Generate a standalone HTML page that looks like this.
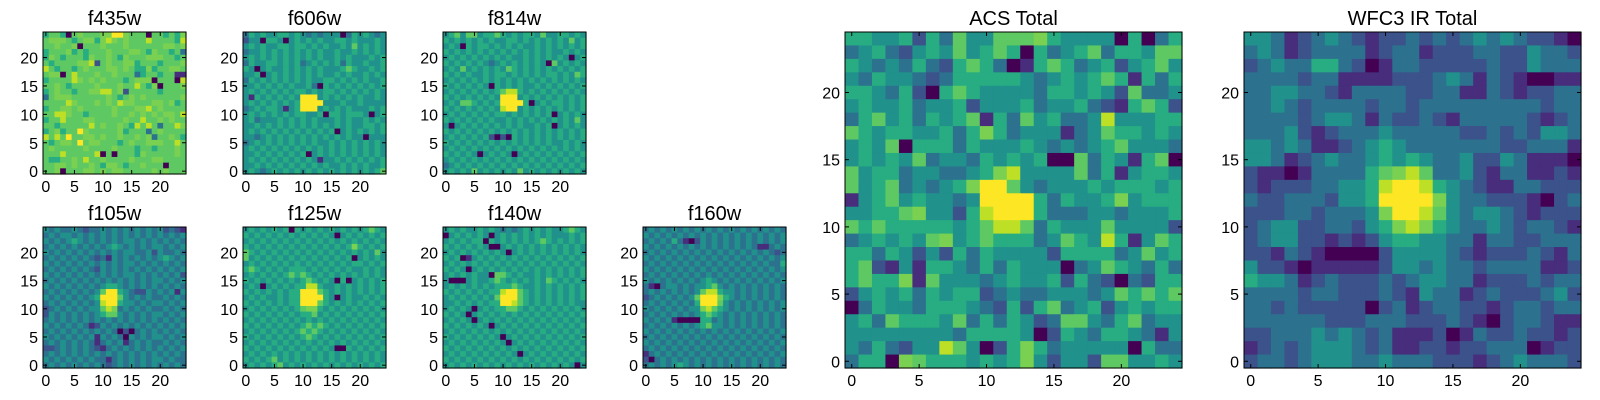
<!DOCTYPE html>
<html><head><meta charset="utf-8"><style>
html,body{margin:0;padding:0;background:#fff;}
svg{display:block;font-family:"Liberation Sans",sans-serif;}
</style></head><body>
<svg id="fig" width="1600" height="400" viewBox="0 0 1600 400"></svg>
<script>
// Colour levels 0..9 (viridis-like), rows listed top (y=24) to bottom (y=0)
const palette = ['#440154','#472d7b','#3b528b','#2c728e','#21918c','#27ad81','#5ec962','#7ad151','#bddf26','#fde725'];
const tickValues = [0,5,10,15,20];
const titles = ['f435w','f606w','f814w','f105w','f125w','f140w','f160w','ACS Total','WFC3 IR Total'];

const f435w = ["56650 67666 77997 66606 65657","67776 56775 78767 66686 66658","66766 70666 76667 66666 67767","56667 56566 67666 77657 66563","57656 66576 67657 66677 76656","65666 67782 67667 75666 56667","86566 56766 67767 65575 66776","67706 86667 66766 63566 56611","56666 87676 76665 67770 66608","66765 66667 66676 68657 06667","56766 56677 88672 66666 56666","36777 66666 67656 76766 66667","66668 76667 67687 76667 76756","56677 67666 66766 67786 76666","66887 66566 66766 76767 67768","56686 66776 66667 66866 76766","66566 66686 76676 58686 36687","56756 69766 66675 66636 76666","86869 66776 76676 67673 66765","65677 69677 66656 76677 76686","67666 66766 66766 65665 66676","66686 66668 06066 65766 66676","65566 76866 76666 76667 76666","66776 76676 57765 66766 60666","66706 66776 76776 66667 67666"];
const f606w = ["35454 45545 43434 44035 45434","24405 54045 45454 45545 44454","45454 45545 54545 44546 45454","34454 54545 45454 45445 45454","45454 54545 45454 45454 44545","35445 54545 34545 45354 45445","54045 44545 45454 44565 44545","44504 54545 45454 45454 45454","35454 54545 45445 54545 45445","44545 45454 45305 45454 54545","45454 54545 54545 54545 45454","41545 45454 99945 45454 54454","45454 54545 99994 44544 54444","34545 54145 99945 45454 44545","45454 54545 54450 55455 54045","45344 45454 54544 45454 45454","44545 45454 54545 45454 45545","45454 54545 45454 50454 54545","44345 45454 54545 45454 40444","34545 45454 54544 54545 45454","45454 54545 45454 54545 45454","44545 45454 50454 54545 45454","45454 54545 45414 45454 54545","44545 45454 54545 44545 45445","45434 54545 45454 54545 45456"];
const f814w = ["45646 64556 54545 54644 55454","54545 45454 45545 45454 54645","45405 45545 45454 45454 54545","54545 45454 54545 45454 45454","45454 54545 45445 45454 54045","54545 45434 54545 45406 45454","45464 54545 46545 45454 54545","54545 44545 54545 45455 45465","45454 54545 45454 54545 45454","54545 45405 45454 45454 54545","45454 54545 68854 54545 45454","54545 45454 99945 45454 54545","45466 54545 99995 04545 54545","54545 45454 89945 45454 54545","45454 54545 54545 45450 45454","54545 45454 45454 54545 45464","40454 54545 45454 45450 45454","54545 45454 54545 45454 54545","45454 54520 20545 45454 54545","54545 45454 54545 45454 45454","45454 54545 45454 54545 45454","54545 40454 54045 45454 54545","45454 54545 45454 54545 45454","34545 45454 54545 45454 54545","45454 64545 45464 54545 45454"];
const f105w = ["43433 43233 43434 34343 42321","34344 34343 43434 34343 43434","43434 54343 43434 43434 34343","34343 43434 34543 43434 43434","43434 34343 43434 43342 43343","34343 43432 31434 34343 45434","43434 34343 43434 43434 34343","34343 43432 43434 34343 43434","43434 34343 43434 43434 34342","34343 43434 34343 43434 43434","43434 34343 45543 43434 34343","34343 43434 69954 32243 43414","43434 34345 99964 34343 34343","34343 43434 89954 43434 43434","23434 34344 68734 34343 34343","24343 43434 56643 43434 43434","34343 43434 34343 43434 34343","43434 34312 43434 34343 43434","34343 43434 34302 03434 34343","43434 34341 43430 43434 43434","34343 43431 34341 34343 34343","22343 43432 13434 34343 43434","34343 43434 34343 43434 34343","43434 34343 31343 43434 43433","34343 43434 32343 43434 34343"];
const f125w = ["45454 54505 45454 54545 45654","54545 45454 54545 40454 54545","45454 54545 45454 54545 45454","54545 45454 54545 45457 54545","65454 54545 45454 54545 45464","64545 45454 54545 45450 45454","45454 54545 45454 54545 54545","56545 45455 54545 45454 45454","45454 54565 65454 54545 45454","54545 45454 56545 40504 54545","45404 54545 58854 45454 54545","54545 45455 99965 45454 54545","45454 45455 99995 40454 45454","54545 45455 99965 45454 54545","45454 54545 67754 54545 45454","54545 45454 55645 45454 54545","45454 54545 45454 54545 45454","54545 45454 56565 45454 54545","45454 54545 65654 54545 45454","54545 45454 56545 45454 54545","45454 54545 45454 54545 45454","54545 45454 54545 40054 54545","45454 54545 45454 54545 45454","54545 64545 45454 54545 45454","45454 56454 54545 45454 54545"];
const f140w = ["45454 45454 34345 45454 45654","04545 45404 54545 45454 44545","45454 55054 54545 45654 54545","54545 45400 45454 54545 45454","45454 54545 40454 54545 45454","54501 45454 54545 45454 54545","45454 54545 45454 54545 45454","54540 45454 54545 45454 54545","45454 54406 65454 45454 54545","40004 54456 54545 45465 45454","45454 54545 55654 45454 54545","54545 45455 89965 45454 54545","45454 54546 99965 45454 54545","44545 45455 99865 45454 54544","45454 04545 56654 54545 45454","54540 45454 54545 45454 54545","45454 04545 45454 54545 45454","54545 45404 54545 45454 54545","45454 54545 45454 54545 45454","54545 45454 04545 45454 54545","45454 54545 40454 54545 45454","54545 45454 54545 45454 54545","45454 54545 45404 54545 45454","54545 45454 54545 45454 54545","45454 54545 45454 54545 45404"];
const f160w = ["34343 43434 34343 43434 34343","43434 34343 43434 34343 43434","34343 53102 43434 34343 43434","43434 34343 43434 34343 11343","34343 43434 34343 43434 34323","43434 34343 43434 34343 43434","34343 43434 34343 43434 34335","43434 34343 43434 34343 43434","34343 43434 34343 43434 34343","43434 34343 45434 34343 43434","31034 43434 45643 43434 34343","34343 43434 68854 43434 34343","23434 34346 99975 43434 34343","34343 43435 99964 34343 43434","43434 34344 78654 34343 43434","34343 43434 56543 43434 34343","43434 10000 55343 43434 34343","34343 43434 56443 43434 34343","43434 34343 43434 34343 43434","34343 43434 34343 43434 34343","43434 34343 43434 34343 43434","34343 43434 34343 43434 34343","13434 34343 43434 34343 43434","20343 43434 34343 43434 34343","34343 45434 34343 43434 34343"];
const acsTotal = ["5544525364466675444405035","3453245464565053456355466","5434353256530156534524564","4354432355555434545651535","5543520565444435545426334","4544534452444534453215652","3564535456153645334844455","6545544535753444134655454","4546055535444543434564443","4545463443545450063541560","6455344334578444463514554","6456343457996434445455545","1456454434999953544574555","4455674425899953334434445","6565555545688635444644442","3454546745655534654851465","5535424253544442555534645","5621415543535444034654353","5655716444345445253203255","2454535455234334443465656","0354435554325256345245455","4536555463535423664356344","4444444435555402543554314","4353244864025753444440533","3550765554545742442664454"];
const wfc3Total = ["4431234321223232343432210","3431233331233122233224332","2343355320133222223224333","3333233111122234313210011","3344332133332233113212233","3343233332332333333333233","3333234431322321333332123","3334212333433333223232443","4434311234543333333223331","4431234334545433422431110","2110133335678633421331121","2122233445899854321133222","3223332445999974332221023","2223323334799864344321222","2344223324578754334323321","2344221212455443313322333","2213210000244443212223213","4221011111244343323333112","5443123222323443312223233","3333233222321433123222342","3323222220231233221233233","3333332223332223210233211","2233343432311120132232212","1232344432311221223330122","2332344433433322212343332"];

const panelData = [f435w,f606w,f814w,f105w,f125w,f140w,f160w,acsTotal,wfc3Total];
const panelBoxes = [
  [43,32,143,142],[243,32,143,142],[443,32,143,142],
  [43,227,143,141],[243,227,143,141],[443,227,143,141],[643,227,143,141],
  [845,32,337,336],[1244,32,337,336]
];
const NS='http://www.w3.org/2000/svg';
const svg=document.getElementById('fig');
function mk(tag,attrs,parent){const e=document.createElementNS(NS,tag);for(const k in attrs)e.setAttribute(k,attrs[k]);parent.appendChild(e);return e;}

panelData.forEach((rows,p)=>{
  const [x0,y0,w,h]=panelBoxes[p];
  const big=w>200;
  const g=mk('g',{},svg);
  
  
  const xs=v=>x0+(v+0.5)*w/25;
  const ys=v=>y0+h-(v+0.5)*h/25;
  const cw=w/25,ch=h/25;
  rows.forEach((r,ri)=>{
    const s=r.replace(/ /g,'');
    const yv=24-ri;
    for(let c=0;c<25;c++){
      const v=+(s[c]||'4');
      const rc=mk('rect',{x:(xs(c)-cw/2).toFixed(2),y:(ys(yv)-ch/2).toFixed(2),width:(cw+0.6).toFixed(2),height:(ch+0.6).toFixed(2),fill:palette[v]},g);
      
      
    }
  });
  const fr=mk('rect',{x:x0,y:y0,width:w,height:h,fill:'none',stroke:'#000','stroke-width':1},g);
  
  
  const t=mk('text',{x:x0+w/2,y:y0-7,'text-anchor':'middle','font-size':20,fill:'#000'},g);
  t.textContent=titles[p];
  
  
  const fs=16;
  tickValues.forEach(tv=>{
    const px=xs(tv),py=ys(tv);
    mk('line',{x1:px,y1:y0+h,x2:px,y2:y0+h-4,stroke:'#000'},g);
    mk('line',{x1:px,y1:y0,x2:px,y2:y0+4,stroke:'#000'},g);
    mk('line',{x1:x0,y1:py,x2:x0+4,y2:py,stroke:'#000'},g);
    mk('line',{x1:x0+w,y1:py,x2:x0+w-4,y2:py,stroke:'#000'},g);
    const xl=mk('text',{x:px,y:y0+h+18,'text-anchor':'middle','font-size':fs},g);
    xl.textContent=tv;
    
    
    const yl=mk('text',{x:x0-5,y:py+6,'text-anchor':'end','font-size':fs},g);
    yl.textContent=tv;
    
    
  });
});
</script>
</body></html>
